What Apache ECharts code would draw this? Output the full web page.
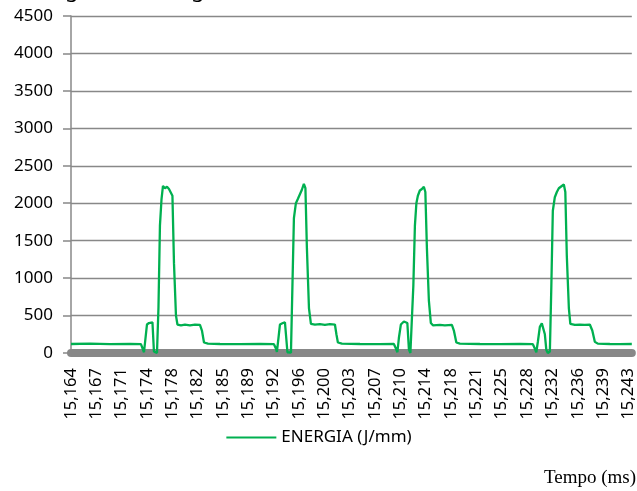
<!DOCTYPE html>
<html><head><meta charset="utf-8">
<script src="https://cdn.jsdelivr.net/npm/echarts@6/dist/echarts.min.js"></script>
<style>html,body{margin:0;padding:0;background:#fff}#c{width:637px;height:491px}</style>
</head><body><div id="c"></div>
<script>
// tick labels (time)
const tickLabels = ['15,164','15,167','15,171','15,174','15,178','15,182','15,185','15,189','15,192','15,196','15,200','15,203','15,207','15,210','15,214','15,218','15,221','15,225','15,228','15,232','15,236','15,239','15,243'];
const tickStepMs = 3.59;
const xMaxMs = 79.45;
// elapsed time (ms) from first tick
const timeMs = [0,2.69,5.52,8.36,9.91,10.34,10.55,10.76,11.05,11.33,11.54,11.75,11.90,12.18,12.39,12.60,12.82,13.03,13.31,13.60,13.88,14.16,14.37,14.59,14.87,15.08,15.58,16.14,16.85,17.56,18.27,18.55,18.84,19.40,21.10,23.93,26.77,28.75,29.03,29.17,29.39,29.60,30.02,30.31,30.45,30.66,30.87,31.16,31.37,31.58,31.86,32.15,32.43,32.71,32.99,33.21,33.42,33.71,33.99,34.56,35.26,35.97,36.68,37.39,37.60,37.81,38.38,40.93,43.76,45.74,46.03,46.24,46.45,46.73,47.16,47.44,47.65,47.87,48.08,48.29,48.50,48.72,48.93,49.14,49.42,49.71,49.99,50.20,50.42,50.70,50.98,51.27,52.26,52.96,53.96,54.24,54.59,55.09,57.92,60.75,63.59,65.43,65.71,65.92,66.14,66.42,66.70,66.91,67.13,67.34,67.55,67.84,68.05,68.26,68.54,68.83,69.11,69.53,69.82,70.03,70.24,70.53,70.74,71.38,72.08,72.79,73.50,73.85,74.21,74.63,76.33,77.75,79.45];
// energy (J/mm)
const energia = [120,125,118,122,118,10,0,380,400,395,410,20,0,0,600,1700,2050,2230,2200,2220,2190,2210,2100,1200,500,380,370,380,370,380,375,300,140,125,120,118,122,118,60,15,200,380,400,410,250,10,0,5,900,1800,2000,2060,2120,2180,2260,2200,1400,600,390,380,385,375,385,380,250,140,125,120,118,120,60,10,200,380,420,440,400,50,0,20,900,1700,2000,2100,2170,2190,2220,2150,1400,700,400,370,375,370,375,300,140,125,120,118,122,118,60,10,150,350,395,380,250,40,0,20,900,1900,2080,2150,2200,2230,2250,2150,1300,600,390,375,380,375,380,300,150,125,120,118,120];
const seriesName = 'ENERGIA (J/mm)';
const titleText = 'Energia de Soldagem';
const xAxisTitle = 'Tempo (ms)';

const chart = echarts.init(document.getElementById('c'));
const data = timeMs.map((t, i) => [t, energia[i]]);
chart.setOption({
  animation: false,
  backgroundColor: '#fff',
  grid: {left: 71, right: 5, top: 16, bottom: 138, containLabel: false},
  legend: {
    data: [seriesName], left: 'center', top: 424,
    itemWidth: 50, itemHeight: 14, itemGap: 5,
    itemStyle: {opacity: 0},
    textStyle: {fontFamily: 'Noto Sans', fontSize: 17, color: '#000'}
  },
  xAxis: {
    type: 'value', min: 0, max: xMaxMs, interval: tickStepMs,
    offset: 2,
    axisLine: {show: true, lineStyle: {color: '#888', width: 8}},
    axisTick: {show: false},
    splitLine: {show: false},
    axisLabel: {
      rotate: 90, margin: 13, color: '#000', fontFamily: 'Noto Sans', fontSize: 16.5,
      showMaxLabel: false,
      formatter: v => {
        const i = Math.round(v / tickStepMs);
        return (Math.abs(v - i * tickStepMs) < 0.05 && i < tickLabels.length) ? tickLabels[i] : '';
      }
    }
  },
  yAxis: {
    type: 'value', min: 0, max: 4500, interval: 500,
    axisLine: {show: true, lineStyle: {color: '#888', width: 1.5}},
    axisTick: {show: true, length: 8, lineStyle: {color: '#888', width: 1.5}},
    splitLine: {show: true, lineStyle: {color: '#888', width: 1.3}},
    axisLabel: {margin: 18, color: '#000', fontFamily: 'Noto Sans', fontSize: 17, formatter: v => String(v)}
  },
  series: [{
    name: seriesName, type: 'line', data: data, symbol: 'none', smooth: false,
    lineStyle: {color: '#00b050', width: 2.3}, itemStyle: {color: '#00b050'}, z: 5
  }],
  graphic: [
    {type: 'text', left: 18, top: -20, style: {text: titleText, fontFamily: 'Noto Sans', fontSize: 22, fill: '#000'}},
    {type: 'text', right: 1, top: 469, style: {text: xAxisTitle, fontFamily: 'Liberation Serif', fontSize: 19, fill: '#000'}}
  ]
});
</script></body></html>
